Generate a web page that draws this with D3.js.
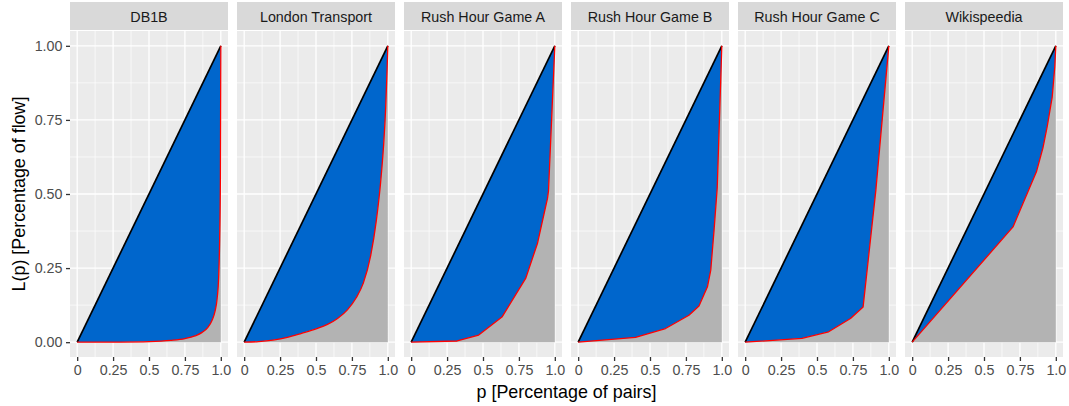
<!DOCTYPE html>
<html><head><meta charset="utf-8">
<script src="https://cdn.jsdelivr.net/npm/d3@7"></script>
<style>body{margin:0;background:#fff}svg{display:block}</style>
</head><body>
<svg id="c" width="1069" height="406"></svg>
<script>
const panels = ["DB1B","London Transport","Rush Hour Game A","Rush Hour Game B","Rush Hour Game C","Wikispeedia"];
const pDB1B = [0,0.3,0.5,0.65,0.75,0.82,0.87,0.91,0.94,0.96,0.975,0.985,0.992,0.997,1];
const lDB1B = [0,0.0005,0.002,0.006,0.012,0.021,0.033,0.05,0.075,0.105,0.15,0.22,0.35,0.55,1];
const pLondon = [0,0.1,0.2,0.3,0.4,0.5,0.58,0.65,0.72,0.78,0.83,0.88,0.92,0.95,0.97,0.985,0.995,1];
const lLondon = [0,0.002,0.007,0.016,0.03,0.045,0.06,0.08,0.11,0.15,0.2,0.29,0.41,0.54,0.66,0.79,0.92,1];
const pRushA = [0,0.32,0.47,0.634,0.797,0.879,0.949,0.956,1];
const lRushA = [0,0.004,0.024,0.086,0.215,0.333,0.485,0.51,1];
const pRushB = [0,0.399,0.608,0.771,0.841,0.90,0.923,0.946,0.968,1];
const lRushB = [0,0.016,0.046,0.091,0.122,0.187,0.243,0.378,0.52,1];
const pRushC = [0,0.395,0.581,0.733,0.821,0.91,1];
const lRushC = [0,0.013,0.035,0.08,0.119,0.514,1];
const pWiki = [0,0.702,0.865,0.91,0.94,0.975,0.993,1];
const lWiki = [0,0.389,0.575,0.655,0.727,0.828,0.93,1];
const series = [[pDB1B,lDB1B],[pLondon,lLondon],[pRushA,lRushA],[pRushB,lRushB],[pRushC,lRushC],[pWiki,lWiki]];
const smooth = [true,true,false,false,false,false];
const xTicks = [0,0.25,0.5,0.75,1.0];
const xTickLabels = ["0","0.25","0.5","0.75","1.0"];
const yTicks = [0,0.25,0.5,0.75,1.0];
const yTickLabels = ["0.00","0.25","0.50","0.75","1.00"];
const xMinor = [0.125,0.375,0.625,0.875];
const yMinor = [0.125,0.375,0.625,0.875];

const svg = d3.select("#c");
const font = "'Liberation Sans', Arial, Helvetica, sans-serif";
const left0 = 70, panelW = 158, step = 167, pTop = 31, pBottom = 357, stripTop = 2;
const y = d3.scaleLinear().domain([-0.05,1.05]).range([pBottom, pTop]);
const tickFont = "14.3px", titleFont = "17.9px";

panels.forEach((name, i) => {
  const x0 = left0 + i*step;
  const x = d3.scaleLinear().domain([-0.05,1.05]).range([x0, x0+panelW]);
  const curve = smooth[i] ? d3.curveMonotoneX : d3.curveLinear;
  const g = svg.append("g");
  g.append("rect").attr("x", x0).attr("y", stripTop).attr("width", panelW).attr("height", pTop-1-stripTop).attr("fill", "#d9d9d9");
  g.append("text").attr("x", x0+panelW/2).attr("y", 22).attr("text-anchor","middle")
    .attr("font-family", font).attr("font-size", tickFont).attr("fill", "#1a1a1a").text(name);
  g.append("rect").attr("x", x0).attr("y", pTop).attr("width", panelW).attr("height", pBottom-pTop).attr("fill", "#ebebeb");
  xMinor.forEach(v => g.append("line").attr("x1", x(v)).attr("x2", x(v)).attr("y1", pTop).attr("y2", pBottom).attr("stroke","#fff").attr("stroke-width",0.65));
  yMinor.forEach(v => g.append("line").attr("y1", y(v)).attr("y2", y(v)).attr("x1", x0).attr("x2", x0+panelW).attr("stroke","#fff").attr("stroke-width",0.65));
  xTicks.forEach(v => g.append("line").attr("x1", x(v)).attr("x2", x(v)).attr("y1", pTop).attr("y2", pBottom).attr("stroke","#fff").attr("stroke-width",1.3));
  yTicks.forEach(v => g.append("line").attr("y1", y(v)).attr("y2", y(v)).attr("x1", x0).attr("x2", x0+panelW).attr("stroke","#fff").attr("stroke-width",1.3));

  const [ps, ls] = series[i];
  const data = ps.map((p,k) => ({p, l: ls[k]}));
  g.append("path").datum(data).attr("fill", "#b3b3b3")
    .attr("d", d3.area().curve(curve).x(d => x(d.p)).y0(y(0)).y1(d => y(d.l)));
  g.append("path").datum(data).attr("fill", "#0066cc")
    .attr("d", d3.area().curve(curve).x(d => x(d.p)).y0(d => y(d.l)).y1(d => y(d.p)));
  g.append("line").attr("x1", x(0)).attr("y1", y(0)).attr("x2", x(1)).attr("y2", y(1))
    .attr("stroke", "#000").attr("stroke-width", 1.7);
  g.append("path").datum(data).attr("fill", "none").attr("stroke", "#ff0000").attr("stroke-width", 1.3)
    .attr("stroke-linejoin","round")
    .attr("d", d3.line().curve(curve).x(d => x(d.p)).y(d => y(d.l)));

  const xa = svg.append("g").attr("transform", `translate(0,${pBottom})`)
    .call(d3.axisBottom(x).tickValues(xTicks).tickFormat((d,k) => xTickLabels[k]).tickSize(4).tickPadding(3.5));
  xa.select(".domain").remove();
  xa.selectAll(".tick line").attr("stroke", "#333").attr("stroke-width", 1.3);
  xa.selectAll("text").attr("font-family", font).attr("font-size", tickFont).attr("fill", "#4d4d4d");

  if (i === 0) {
    const ya = svg.append("g").attr("transform", `translate(${x0},0)`)
      .call(d3.axisLeft(y).tickValues(yTicks).tickFormat((d,k) => yTickLabels[k]).tickSize(4).tickPadding(3.5));
    ya.select(".domain").remove();
    ya.selectAll(".tick line").attr("stroke", "#333").attr("stroke-width", 1.3);
    ya.selectAll("text").attr("font-family", font).attr("font-size", tickFont).attr("fill", "#4d4d4d");
  }
});

svg.append("text").attr("x", (left0 + 5*step + panelW + left0)/2).attr("y", 398).attr("text-anchor","middle")
  .attr("font-family", font).attr("font-size", titleFont).attr("fill", "#000").text("p [Percentage of pairs]");
svg.append("text").attr("transform", `translate(24.5,${(pTop+pBottom)/2}) rotate(-90)`).attr("text-anchor","middle")
  .attr("font-family", font).attr("font-size", titleFont).attr("fill", "#000").text("L(p) [Percentage of flow]");
</script>
</body></html>
